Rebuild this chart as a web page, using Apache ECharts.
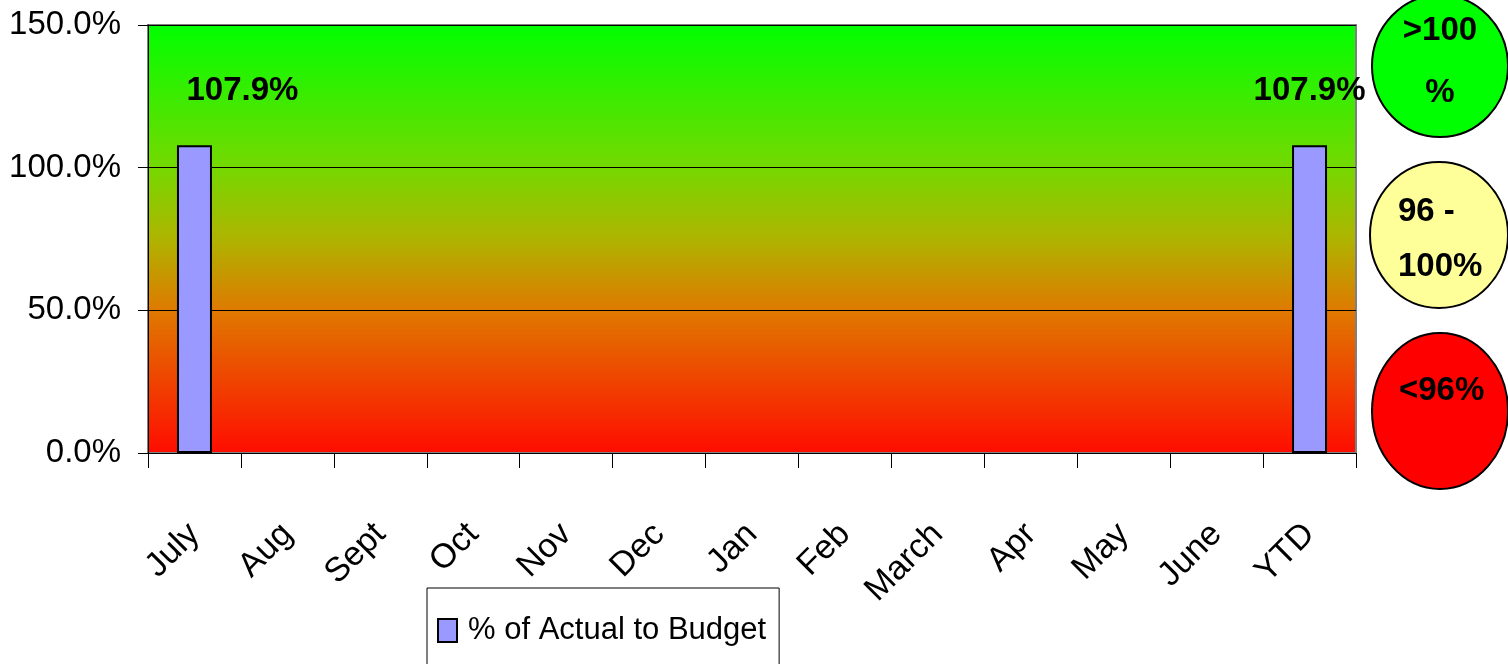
<!DOCTYPE html>
<html>
<head>
<meta charset="utf-8">
<script src="https://cdn.jsdelivr.net/npm/echarts@6/dist/echarts.min.js"></script>
<style>
  html, body { margin: 0; padding: 0; background: #ffffff; }
  #chart { width: 1508px; height: 664px; }
</style>
</head>
<body>
<div id="chart"></div>
<script>
// Monthly percentage of actual spend to budget, fiscal year July–June plus YTD
const months = ['July', 'Aug', 'Sept', 'Oct', 'Nov', 'Dec', 'Jan', 'Feb', 'March', 'Apr', 'May', 'June', 'YTD'];
const pctActualToBudget = [107.9, null, null, null, null, null, null, null, null, null, null, null, 107.9];
const seriesName = '% of Actual to Budget';
const yTicks = [0, 50, 100, 150];
const bandLabels = [['>100', '%'], ['96 -', '100%'], ['<96%']];

const FONT = '"Liberation Sans Narrow", "Arial Narrow", "Liberation Sans", Arial, sans-serif';
const chart = echarts.init(document.getElementById('chart'), null, { renderer: 'canvas' });

const pctFmt = v => Number(v).toFixed(1) + '%';
const bandFont = 'bold 33px ' + FONT;

const option = {
  animation: false,
  backgroundColor: '#ffffff',
  grid: {
    left: 148, right: 152, top: 25, bottom: 211,
    outerBoundsMode: 'none',
    containLabel: false,
    show: true,
    borderColor: '#808080',
    borderWidth: 2,
    backgroundColor: new echarts.graphic.LinearGradient(0, 0, 0, 1, [
      { offset: 0, color: '#00ff00' },
      { offset: 0.33, color: '#74d900' },
      { offset: 0.5, color: '#aeb400' },
      { offset: 0.67, color: '#e07800' },
      { offset: 1, color: '#ff0c00' }
    ])
  },
  legend: {
    left: 427, top: 588,
    orient: 'horizontal',
    backgroundColor: '#ffffff',
    borderColor: '#000000',
    borderWidth: 1,
    borderRadius: 0,
    padding: [27, 13, 30, 10],
    itemWidth: 19, itemHeight: 23,
    icon: 'rect',
    textStyle: { fontFamily: FONT, fontSize: 31, color: '#000000', padding: [0, 0, 0, 6] },
    data: [{ name: seriesName, itemStyle: { color: '#9999ff', borderColor: '#000000', borderWidth: 2 } }]
  },
  xAxis: {
    type: 'category',
    data: months,
    boundaryGap: true,
    axisLine: { show: true, lineStyle: { color: '#000000', width: 1 } },
    axisTick: { show: true, length: 15, alignWithLabel: false, lineStyle: { color: '#000000' } },
    axisLabel: {
      rotate: 45, margin: 76, interval: 0,
      fontFamily: FONT, fontSize: 34, color: '#000000'
    },
    splitLine: { show: false }
  },
  yAxis: {
    type: 'value',
    min: yTicks[0], max: yTicks[yTicks.length - 1], interval: yTicks[1] - yTicks[0],
    axisLine: { show: true, lineStyle: { color: '#000000', width: 1 } },
    axisTick: { show: true, length: 10, lineStyle: { color: '#000000' } },
    axisLabel: {
      margin: 27, formatter: pctFmt,
      fontFamily: FONT, fontSize: 33, color: '#000000'
    },
    splitLine: { show: true, lineStyle: { color: '#000000', width: 1 } }
  },
  series: [{
    name: seriesName,
    type: 'bar',
    barWidth: 35,
    data: pctActualToBudget.map((v, i) => ({
      value: v,
      label: i === 0 ? { offset: [48, 0] } : {}
    })),
    itemStyle: { color: '#9999ff', borderColor: '#000000', borderWidth: 2 },
    label: {
      show: true, position: 'top', distance: 38,
      formatter: p => pctFmt(p.value),
      fontFamily: FONT, fontWeight: 'bold', fontSize: 33, color: '#000000'
    }
  }],
  graphic: [
    { type: 'ellipse', shape: { cx: 1440, cy: 66, rx: 68, ry: 71 }, style: { fill: '#00ff00', stroke: '#000000', lineWidth: 2 } },
    { type: 'ellipse', shape: { cx: 1439, cy: 235, rx: 69, ry: 73 }, style: { fill: '#ffff99', stroke: '#000000', lineWidth: 2 } },
    { type: 'ellipse', shape: { cx: 1440, cy: 411, rx: 68, ry: 78 }, style: { fill: '#ff0000', stroke: '#000000', lineWidth: 2 } },
    { type: 'text', x: 1440, y: 31, style: { text: bandLabels[0][0], font: bandFont, fill: '#000', align: 'center', verticalAlign: 'middle' } },
    { type: 'text', x: 1440, y: 93, style: { text: bandLabels[0][1], font: bandFont, fill: '#000', align: 'center', verticalAlign: 'middle' } },
    { type: 'text', x: 1398, y: 212, style: { text: bandLabels[1][0], font: bandFont, fill: '#000', align: 'left', verticalAlign: 'middle' } },
    { type: 'text', x: 1398, y: 267, style: { text: bandLabels[1][1], font: bandFont, fill: '#000', align: 'left', verticalAlign: 'middle' } },
    { type: 'text', x: 1399, y: 391, style: { text: bandLabels[2][0], font: bandFont, fill: '#000', align: 'left', verticalAlign: 'middle' } }
  ]
};

chart.setOption(option);
</script>
</body>
</html>
